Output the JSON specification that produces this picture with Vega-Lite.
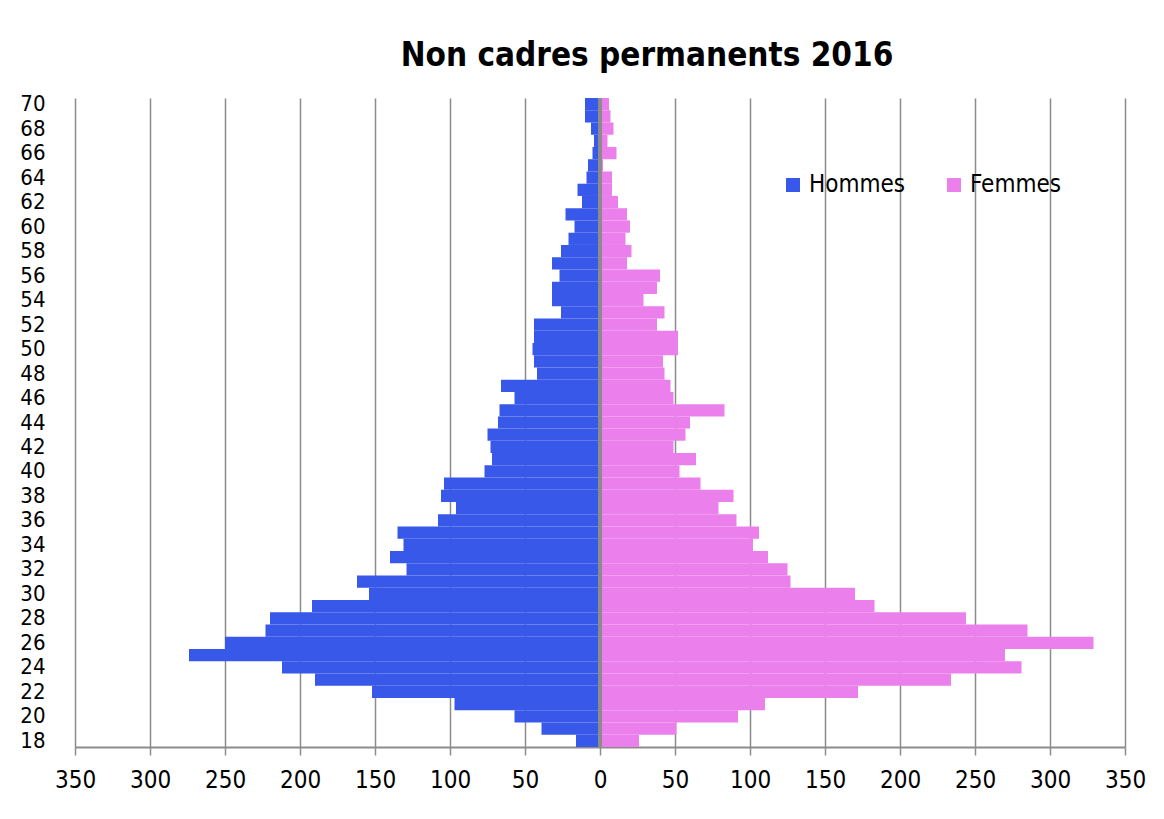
{
  "$schema": "https://vega.github.io/schema/vega-lite/v6.json",
  "autosize": {"type": "none"},
  "padding": {"left": 75, "top": 98, "right": 39, "bottom": 72},
  "width": 1050,
  "height": 649,
  "background": "white",
  "title": {
    "text": "Non cadres permanents 2016",
    "font": "DejaVu Sans Condensed, sans-serif",
    "fontSize": 33,
    "fontWeight": "bold",
    "color": "#000000",
    "anchor": "middle",
    "frame": "group",
    "dx": 47,
    "offset": 20
  },
  "data": {
    "values": [
      {"age": 70, "sexe": "Hommes", "effectif": -10}, {"age": 70, "sexe": "Femmes", "effectif": 6},
      {"age": 69, "sexe": "Hommes", "effectif": -10}, {"age": 69, "sexe": "Femmes", "effectif": 7},
      {"age": 68, "sexe": "Hommes", "effectif": -6}, {"age": 68, "sexe": "Femmes", "effectif": 9},
      {"age": 67, "sexe": "Hommes", "effectif": -4}, {"age": 67, "sexe": "Femmes", "effectif": 5},
      {"age": 66, "sexe": "Hommes", "effectif": -5}, {"age": 66, "sexe": "Femmes", "effectif": 11},
      {"age": 65, "sexe": "Hommes", "effectif": -8}, {"age": 65, "sexe": "Femmes", "effectif": 2},
      {"age": 64, "sexe": "Hommes", "effectif": -9}, {"age": 64, "sexe": "Femmes", "effectif": 8},
      {"age": 63, "sexe": "Hommes", "effectif": -15}, {"age": 63, "sexe": "Femmes", "effectif": 8},
      {"age": 62, "sexe": "Hommes", "effectif": -12}, {"age": 62, "sexe": "Femmes", "effectif": 12},
      {"age": 61, "sexe": "Hommes", "effectif": -23}, {"age": 61, "sexe": "Femmes", "effectif": 18},
      {"age": 60, "sexe": "Hommes", "effectif": -17}, {"age": 60, "sexe": "Femmes", "effectif": 20},
      {"age": 59, "sexe": "Hommes", "effectif": -21}, {"age": 59, "sexe": "Femmes", "effectif": 17},
      {"age": 58, "sexe": "Hommes", "effectif": -26}, {"age": 58, "sexe": "Femmes", "effectif": 21},
      {"age": 57, "sexe": "Hommes", "effectif": -32}, {"age": 57, "sexe": "Femmes", "effectif": 18},
      {"age": 56, "sexe": "Hommes", "effectif": -27}, {"age": 56, "sexe": "Femmes", "effectif": 40},
      {"age": 55, "sexe": "Hommes", "effectif": -32}, {"age": 55, "sexe": "Femmes", "effectif": 38},
      {"age": 54, "sexe": "Hommes", "effectif": -32}, {"age": 54, "sexe": "Femmes", "effectif": 29},
      {"age": 53, "sexe": "Hommes", "effectif": -26}, {"age": 53, "sexe": "Femmes", "effectif": 43},
      {"age": 52, "sexe": "Hommes", "effectif": -44}, {"age": 52, "sexe": "Femmes", "effectif": 38},
      {"age": 51, "sexe": "Hommes", "effectif": -44}, {"age": 51, "sexe": "Femmes", "effectif": 52},
      {"age": 50, "sexe": "Hommes", "effectif": -45}, {"age": 50, "sexe": "Femmes", "effectif": 52},
      {"age": 49, "sexe": "Hommes", "effectif": -44}, {"age": 49, "sexe": "Femmes", "effectif": 42},
      {"age": 48, "sexe": "Hommes", "effectif": -42}, {"age": 48, "sexe": "Femmes", "effectif": 43},
      {"age": 47, "sexe": "Hommes", "effectif": -66}, {"age": 47, "sexe": "Femmes", "effectif": 47},
      {"age": 46, "sexe": "Hommes", "effectif": -57}, {"age": 46, "sexe": "Femmes", "effectif": 49},
      {"age": 45, "sexe": "Hommes", "effectif": -67}, {"age": 45, "sexe": "Femmes", "effectif": 83},
      {"age": 44, "sexe": "Hommes", "effectif": -68}, {"age": 44, "sexe": "Femmes", "effectif": 60},
      {"age": 43, "sexe": "Hommes", "effectif": -75}, {"age": 43, "sexe": "Femmes", "effectif": 57},
      {"age": 42, "sexe": "Hommes", "effectif": -73}, {"age": 42, "sexe": "Femmes", "effectif": 49},
      {"age": 41, "sexe": "Hommes", "effectif": -72}, {"age": 41, "sexe": "Femmes", "effectif": 64},
      {"age": 40, "sexe": "Hommes", "effectif": -77}, {"age": 40, "sexe": "Femmes", "effectif": 53},
      {"age": 39, "sexe": "Hommes", "effectif": -104}, {"age": 39, "sexe": "Femmes", "effectif": 67},
      {"age": 38, "sexe": "Hommes", "effectif": -106}, {"age": 38, "sexe": "Femmes", "effectif": 89},
      {"age": 37, "sexe": "Hommes", "effectif": -96}, {"age": 37, "sexe": "Femmes", "effectif": 79},
      {"age": 36, "sexe": "Hommes", "effectif": -108}, {"age": 36, "sexe": "Femmes", "effectif": 91},
      {"age": 35, "sexe": "Hommes", "effectif": -135}, {"age": 35, "sexe": "Femmes", "effectif": 106},
      {"age": 34, "sexe": "Hommes", "effectif": -131}, {"age": 34, "sexe": "Femmes", "effectif": 102},
      {"age": 33, "sexe": "Hommes", "effectif": -140}, {"age": 33, "sexe": "Femmes", "effectif": 112},
      {"age": 32, "sexe": "Hommes", "effectif": -129}, {"age": 32, "sexe": "Femmes", "effectif": 125},
      {"age": 31, "sexe": "Hommes", "effectif": -162}, {"age": 31, "sexe": "Femmes", "effectif": 127},
      {"age": 30, "sexe": "Hommes", "effectif": -154}, {"age": 30, "sexe": "Femmes", "effectif": 170},
      {"age": 29, "sexe": "Hommes", "effectif": -192}, {"age": 29, "sexe": "Femmes", "effectif": 183},
      {"age": 28, "sexe": "Hommes", "effectif": -220}, {"age": 28, "sexe": "Femmes", "effectif": 244},
      {"age": 27, "sexe": "Hommes", "effectif": -223}, {"age": 27, "sexe": "Femmes", "effectif": 285},
      {"age": 26, "sexe": "Hommes", "effectif": -250}, {"age": 26, "sexe": "Femmes", "effectif": 329},
      {"age": 25, "sexe": "Hommes", "effectif": -274}, {"age": 25, "sexe": "Femmes", "effectif": 270},
      {"age": 24, "sexe": "Hommes", "effectif": -212}, {"age": 24, "sexe": "Femmes", "effectif": 281},
      {"age": 23, "sexe": "Hommes", "effectif": -190}, {"age": 23, "sexe": "Femmes", "effectif": 234},
      {"age": 22, "sexe": "Hommes", "effectif": -152}, {"age": 22, "sexe": "Femmes", "effectif": 172},
      {"age": 21, "sexe": "Hommes", "effectif": -97}, {"age": 21, "sexe": "Femmes", "effectif": 110},
      {"age": 20, "sexe": "Hommes", "effectif": -57}, {"age": 20, "sexe": "Femmes", "effectif": 92},
      {"age": 19, "sexe": "Hommes", "effectif": -39}, {"age": 19, "sexe": "Femmes", "effectif": 51},
      {"age": 18, "sexe": "Hommes", "effectif": -16}, {"age": 18, "sexe": "Femmes", "effectif": 26}
    ]
  },
  "layer": [
    {
      "mark": {"type": "bar"},
      "encoding": {
        "y": {
          "field": "age",
          "type": "ordinal",
          "sort": "descending",
          "scale": {"paddingInner": 0, "paddingOuter": 0},
          "axis": {
            "title": null,
            "values": [70, 68, 66, 64, 62, 60, 58, 56, 54, 52, 50, 48, 46, 44, 42, 40, 38, 36, 34, 32, 30, 28, 26, 24, 22, 20, 18],
            "domain": false,
            "ticks": false,
            "tickSize": 0,
            "grid": false,
            "labelOverlap": false,
            "labelPadding": 30,
            "labelFont": "DejaVu Sans Condensed, sans-serif",
            "labelFontSize": 22,
            "labelColor": "#000000"
          }
        },
        "x": {
          "field": "effectif",
          "type": "quantitative",
          "scale": {"domain": [-350, 350], "nice": false},
          "axis": {
            "title": null,
            "values": [-350, -300, -250, -200, -150, -100, -50, 0, 50, 100, 150, 200, 250, 300, 350],
            "labelExpr": "'' + abs(datum.value)",
            "labelFlush": false,
            "labelOverlap": false,
            "grid": true,
            "gridColor": "#8c8c8c",
            "gridWidth": 1.5,
            "domainColor": "#8c8c8c",
            "domainWidth": 2,
            "tickColor": "#8c8c8c",
            "tickWidth": 1.5,
            "tickSize": 8,
            "labelPadding": 13,
            "labelFont": "DejaVu Sans Condensed, sans-serif",
            "labelFontSize": 24,
            "labelColor": "#000000"
          }
        },
        "color": {
          "field": "sexe",
          "type": "nominal",
          "scale": {"domain": ["Hommes", "Femmes"], "range": ["#3858E9", "#EB80EC"]},
          "legend": {
            "title": null,
            "orient": "none",
            "direction": "horizontal",
            "legendX": 706,
            "legendY": 75,
            "symbolType": "square",
            "symbolSize": 196,
            "symbolStrokeWidth": 0,
            "symbolOpacity": 1,
            "labelOffset": 4,
            "columnPadding": 36,
            "labelFont": "DejaVu Sans Condensed, sans-serif",
            "labelFontSize": 24,
            "labelColor": "#000000"
          }
        }
      }
    },
    {
      "mark": {"type": "rule", "color": "#8c8c8c", "strokeWidth": 3},
      "encoding": {"x": {"datum": 0}}
    }
  ],
  "config": {
    "view": {"stroke": null},
    "bar": {"opacity": 1}
  }
}
